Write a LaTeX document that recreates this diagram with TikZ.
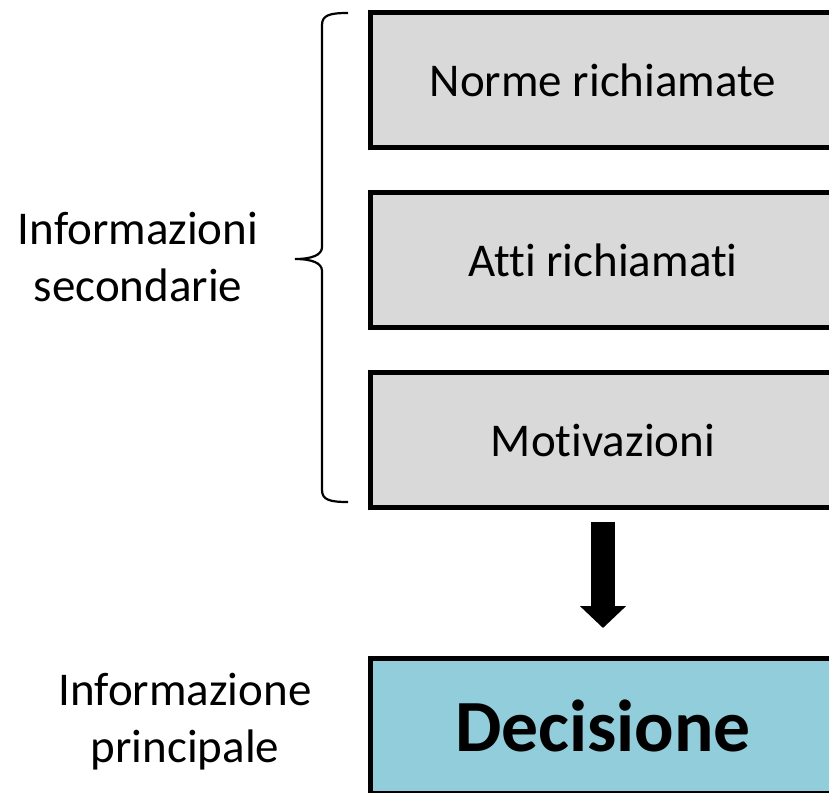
\documentclass[tikz,border=0pt]{standalone}
\usepackage{fontspec}
\setmainfont{Carlito}[Ligatures=CommonOff]
\usetikzlibrary{arrows.meta}
\definecolor{boxgray}{HTML}{D9D9D9}
\definecolor{decblue}{HTML}{92CDDC}
\tikzset{
  infobox/.style={draw, line width=2.5pt, fill=boxgray, minimum width=232.5pt,
    minimum height=67.5pt, font=\fontsize{23.5}{28.5}\selectfont},
  decbox/.style={infobox, fill=decblue, font=\fontsize{36.8}{44}\selectfont\bfseries},
  sidelabel/.style={align=center, font=\fontsize{23.5}{28.5}\selectfont},
  bigarrow/.style={line width=11.8pt, -{Triangle[width=22.5pt,length=11pt]},
    shorten <=6pt, shorten >=14pt}
}

\begin{document}
\begin{tikzpicture}[x=0.5pt,y=-0.5pt]
    \useasboundingbox (0,0) rectangle (829,792);
    \clip (0,0) rectangle (829,792);
    % boxes
    \node[infobox] (norme) at (603,80) {Norme richiamate};
    \node[infobox] (atti) at (603,260) {Atti richiamati};
    \node[infobox] (motiv) at (603,440) {Motivazioni};
    \node[decbox] (dec) at (603,726) {Decisione};
    \draw[bigarrow] (motiv.south) -- (dec.north);
    % labels on the left
    \node[sidelabel] (sec) at (138,257) {Informazioni\\secondarie};
    \node[sidelabel] (princ) at (185,722) {Informazione\\principale};
    % brace
    \coordinate (btop) at (348,13);
    \coordinate (bmid) at (295,259);
    \coordinate (bbot) at (348,502);
    \draw[line width=1.1pt] (btop) .. controls (330,13) and (322,15) .. (322,25)
        -- (322,247) .. controls (322,255) and (312,259) .. (bmid)
        .. controls (312,259) and (322,263) .. (322,271)
        -- (322,490) .. controls (322,500) and (330,502) .. (bbot);
\end{tikzpicture}
\end{document}
